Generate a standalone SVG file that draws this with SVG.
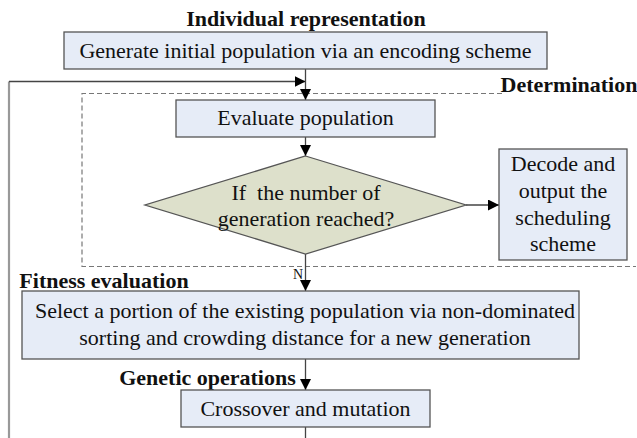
<svg xmlns="http://www.w3.org/2000/svg" width="637" height="438" viewBox="0 0 637 438">
<style>
.box{fill:#e6ecf7;stroke:#555;stroke-width:1.3}
.dia{fill:#dde0cb;stroke:#555;stroke-width:1.3}
.t{font-family:'Liberation Serif','Tinos','Times New Roman','DejaVu Serif',serif;font-size:22px;fill:#111;text-anchor:middle}
.b{font-weight:bold}
.ln{fill:none;stroke:#444;stroke-width:1.3}
.dash{fill:none;stroke:#777;stroke-width:1.2;stroke-dasharray:5,3}
</style>
<defs>
<marker id="ah" viewBox="0 0 10 10" refX="10" refY="5" markerWidth="11" markerHeight="11" markerUnits="userSpaceOnUse" orient="auto">
<path d="M0,0 L10,5 L0,10 Z" fill="#000"/>
</marker>
</defs>
<rect width="637" height="438" fill="#fff"/>
<g id="region">
<path class="dash" d="M502,93.5 H82 V266.5 H636"/>
<text class="t b" x="569" y="92">Determination</text>
</g>
<g id="labels">
<text class="t b" x="306" y="26">Individual representation</text>
<text class="t b" x="104" y="287.5">Fitness evaluation</text>
<text class="t b" x="207.5" y="385">Genetic operations</text>
<text class="t" x="303" y="278.5" style="font-size:14px;text-anchor:end">N</text>
</g>
<g id="connectors">
<path d="M9,438 V81.5" fill="none" stroke="#999" stroke-width="2.2"/>
<path class="ln" d="M9,81.5 H305.5" marker-end="url(#ah)"/>
<path class="ln" d="M305.5,69 V100" marker-end="url(#ah)"/>
<path class="ln" d="M305.5,137 V156" marker-end="url(#ah)"/>
<path class="ln" d="M466,205 H499" marker-end="url(#ah)"/>
<path class="ln" d="M305.5,254 V291" marker-end="url(#ah)"/>
<path class="ln" d="M305.5,359 V390" marker-end="url(#ah)"/>
<path class="ln" d="M305.5,427 V438"/>
</g>
<g id="n-generate">
<rect class="box" x="64" y="32" width="483" height="37"/>
<text class="t" x="305.5" y="58">Generate initial population via an encoding scheme</text>
</g>
<g id="n-evaluate">
<rect class="box" x="176" y="100" width="259" height="37"/>
<text class="t" x="305.5" y="124.5">Evaluate population</text>
</g>
<g id="n-decision">
<polygon class="dia" points="305.5,156 466,205 305.5,254 145,205"/>
<text class="t" x="306" y="199.5" xml:space="preserve">If  the number of</text>
<text class="t" x="306" y="225.5">generation reached?</text>
</g>
<g id="n-decode">
<rect class="box" x="499" y="149" width="128" height="111"/>
<text class="t" x="563" y="171">Decode and</text>
<text class="t" x="563" y="198">output the</text>
<text class="t" x="563" y="224.5">scheduling</text>
<text class="t" x="563" y="251">scheme</text>
</g>
<g id="n-select">
<rect class="box" x="22" y="291" width="557" height="68"/>
<text class="t" x="305" y="317.5">Select a portion of the existing population via non-dominated</text>
<text class="t" x="305" y="344.5">sorting and crowding distance for a new generation</text>
</g>
<g id="n-crossover">
<rect class="box" x="181" y="390" width="249" height="37"/>
<text class="t" x="305.5" y="415.5">Crossover and mutation</text>
</g>
</svg>
